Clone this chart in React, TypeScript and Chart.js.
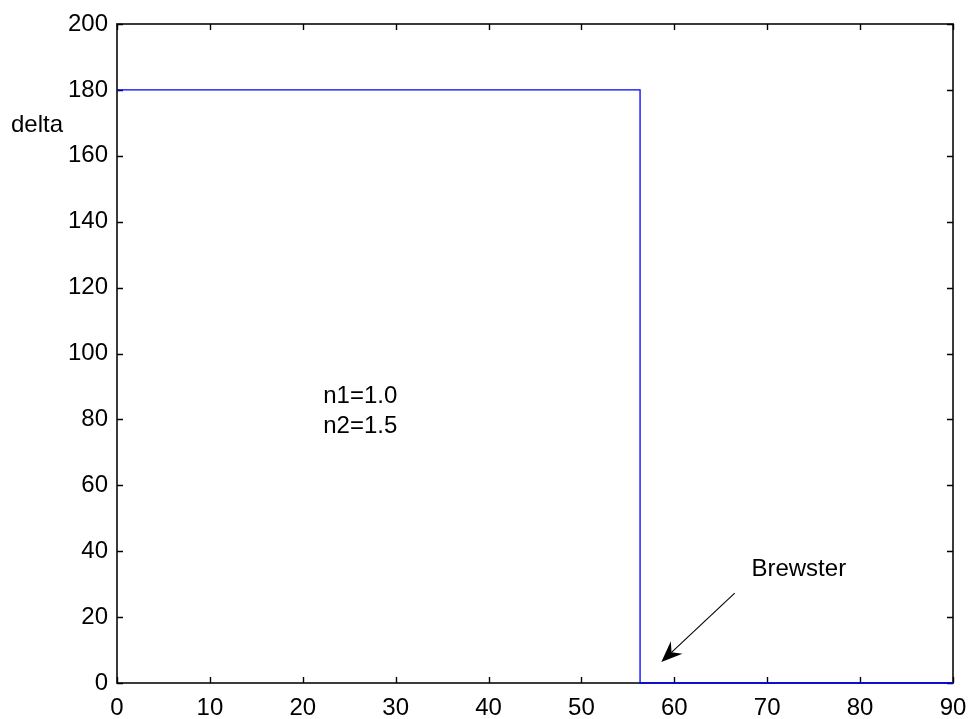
import React, { useEffect, useRef } from "react";
import { Chart, registerables } from "chart.js";

Chart.register(...registerables);

// Incidence angle (deg) and phase shift delta (deg)
const angles = [0, 56.31, 56.31, 90];
const delta = [180, 180, 0, 0];

const xTicksMin = 0;
const xTicksMax = 90;
const xStep = 10;
const yTicksMin = 0;
const yTicksMax = 200;
const yStep = 20;

const yLabel = "delta";
const noteLines = ["n1=1.0", "n2=1.5"];
const noteAt = { x: 22.2, y: [87.1, 78.0] };
const brewsterText = "Brewster";
const brewsterAt = { x: 68.3, y: 34.6 };
const arrowFrom = { x: 66.5, y: 27.3 };
const arrowTo = { x: 58.6, y: 6.4 };

const FONT = "'Liberation Sans', Arial, sans-serif";
const FONT_SIZE = 24;

const framePlugin = {
  id: "matlabFrame",
  beforeDatasetsDraw(chart: any) {
    const { ctx, chartArea: a, scales } = chart;
    const xs = scales.x;
    const ys = scales.y;
    ctx.save();
    ctx.strokeStyle = "#262626";
    ctx.lineWidth = 1.8;
    ctx.strokeRect(a.left, a.top, a.right - a.left, a.bottom - a.top);
    ctx.lineWidth = 1.4;
    ctx.strokeStyle = "#000";
    const tl = 6;
    ctx.beginPath();
    for (const t of xs.ticks) {
      const px = Math.round(xs.getPixelForValue(t.value)) + 0.5;
      ctx.moveTo(px, a.bottom);
      ctx.lineTo(px, a.bottom - tl);
      ctx.moveTo(px, a.top);
      ctx.lineTo(px, a.top + tl);
    }
    for (const t of ys.ticks) {
      const py = Math.round(ys.getPixelForValue(t.value)) + 0.5;
      ctx.moveTo(a.left, py);
      ctx.lineTo(a.left + tl, py);
      ctx.moveTo(a.right, py);
      ctx.lineTo(a.right - tl, py);
    }
    ctx.stroke();
    ctx.restore();
  },
  afterDraw(chart: any) {
    const { ctx, scales } = chart;
    const xs = scales.x;
    const ys = scales.y;
    ctx.save();
    ctx.fillStyle = "#000";
    ctx.font = `${FONT_SIZE}px ${FONT}`;
    ctx.textBaseline = "middle";
    ctx.textAlign = "left";
    // y axis label (horizontal, MATLAB style)
    ctx.fillText(yLabel, 11, ys.getPixelForValue(169.3));
    // notes
    noteLines.forEach((s, i) => {
      ctx.fillText(s, xs.getPixelForValue(noteAt.x), ys.getPixelForValue(noteAt.y[i]));
    });
    ctx.fillText(brewsterText, xs.getPixelForValue(brewsterAt.x), ys.getPixelForValue(brewsterAt.y));
    // arrow
    const x0 = xs.getPixelForValue(arrowFrom.x);
    const y0 = ys.getPixelForValue(arrowFrom.y);
    const x1 = xs.getPixelForValue(arrowTo.x);
    const y1 = ys.getPixelForValue(arrowTo.y);
    const ang = Math.atan2(y1 - y0, x1 - x0);
    const hl = 21;
    const hw = 8.5;
    const notch = 14;
    ctx.strokeStyle = "#000";
    ctx.lineWidth = 1.1;
    ctx.beginPath();
    ctx.moveTo(x0, y0);
    ctx.lineTo(x1 - Math.cos(ang) * notch, y1 - Math.sin(ang) * notch);
    ctx.stroke();
    const bx = x1 - Math.cos(ang) * hl;
    const by = y1 - Math.sin(ang) * hl;
    const nx = -Math.sin(ang);
    const ny = Math.cos(ang);
    ctx.beginPath();
    ctx.moveTo(x1, y1);
    ctx.lineTo(bx + nx * hw, by + ny * hw);
    ctx.lineTo(x1 - Math.cos(ang) * notch, y1 - Math.sin(ang) * notch);
    ctx.lineTo(bx - nx * hw, by - ny * hw);
    ctx.closePath();
    ctx.fill();
    ctx.restore();
  },
};

export default function App() {
  const ref = useRef<HTMLCanvasElement | null>(null);
  useEffect(() => {
    if (!ref.current) return;
    const chart = new Chart(ref.current, {
      type: "line",
      data: {
        datasets: [
          {
            data: angles.map((a, i) => ({ x: a, y: delta[i] })),
            borderColor: "#0000ff",
            borderWidth: 1.3,
            pointRadius: 0,
            tension: 0,
            fill: false,
            clip: false as any,
          },
        ],
      },
      options: {
        animation: false,
        responsive: false,
        devicePixelRatio: 1,
        layout: { padding: { top: 24, right: 19, left: 0, bottom: 0 } },
        plugins: { legend: { display: false }, tooltip: { enabled: false } },
        scales: {
          x: {
            type: "linear",
            min: xTicksMin,
            max: xTicksMax,
            afterFit: (s: any) => {
              s.height = 36;
              s.paddingLeft = 0;
              s.paddingRight = 0;
            },
            grid: { display: false, drawTicks: false },
            border: { display: false },
            ticks: {
              stepSize: xStep,
              autoSkip: false,
              maxRotation: 0,
              padding: 11,
              color: "#000",
              font: { family: FONT, size: FONT_SIZE },
            },
          },
          y: {
            type: "linear",
            min: yTicksMin,
            max: yTicksMax,
            afterFit: (s: any) => {
              s.width = 117;
              s.paddingTop = 0;
              s.paddingBottom = 0;
            },
            grid: { display: false, drawTicks: false },
            border: { display: false },
            ticks: {
              stepSize: yStep,
              autoSkip: false,
              padding: 9,
              color: "#000",
              font: { family: FONT, size: FONT_SIZE },
            },
          },
        },
      },
      plugins: [framePlugin],
    });
    return () => chart.destroy();
  }, []);
  return (
    <div style={{ position: "fixed", left: 0, top: 0, width: 972, height: 719, background: "#fff" }}>
      <canvas ref={ref} width={972} height={719} />
    </div>
  );
}
